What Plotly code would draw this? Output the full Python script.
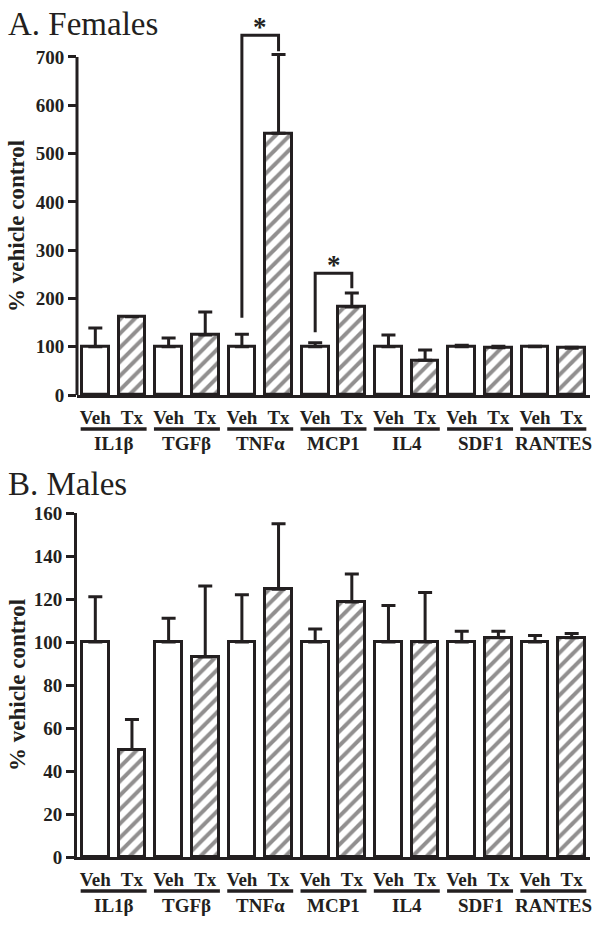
import plotly.graph_objects as go

# ---------------- data ----------------
groups = ["IL1β", "TGFβ", "TNFα", "MCP1", "IL4", "SDF1", "RANTES"]
conds = ["Veh", "Tx"]

fem_veh = [100, 100, 100, 100, 100, 100, 100]
fem_veh_err = [39, 18, 26, 8, 24, 3, 1]
fem_tx = [162, 124, 542, 182, 72, 98, 97]
fem_tx_err = [0, 48, 163, 29, 21, 3, 2]

male_veh = [100, 100, 100, 100, 100, 100, 100]
male_veh_err = [21, 11, 22, 6, 17, 5, 3]
male_tx = [50, 93, 124.5, 118.6, 100, 102, 102]
male_tx_err = [14, 33, 30.5, 13, 23, 3, 2]

# significance brackets (female panel): group index, left start, top, right end
brackets_grp = [2, 3]
brackets_left = [160, 130]
brackets_top = [745, 252]
brackets_right = [712, 221]

FONT = "Liberation Serif"
BLACK = "#231f20"

fig = go.Figure()

n = len(groups)
veh_x = [2 * i for i in range(n)]
tx_x = [2 * i + 1 for i in range(n)]
tickvals = list(range(2 * n))
ticktext = [conds[i % 2] for i in range(2 * n)]

panels = [
    ("x", "y", fem_veh, fem_veh_err, fem_tx, fem_tx_err),
    ("x2", "y2", male_veh, male_veh_err, male_tx, male_tx_err),
]

for xa, ya, v, ve, t, te in panels:
    fig.add_trace(go.Bar(
        x=veh_x, y=v, xaxis=xa, yaxis=ya, width=0.73,
        marker=dict(color="white", line=dict(color=BLACK, width=3)),
        error_y=dict(type="data", symmetric=False, array=ve,
                     arrayminus=[0] * n, color=BLACK, thickness=3, width=7),
        showlegend=False, hoverinfo="skip",
    ))
    fig.add_trace(go.Bar(
        x=tx_x, y=t, xaxis=xa, yaxis=ya, width=0.73,
        marker=dict(color="white", line=dict(color=BLACK, width=3),
                    pattern=dict(shape="/", size=10, solidity=0.4,
                                 fgcolor=BLACK, bgcolor="white", fillmode="overlay")),
        error_y=dict(type="data", symmetric=False, array=te,
                     arrayminus=[0] * n, color=BLACK, thickness=3, width=7),
        showlegend=False, hoverinfo="skip",
    ))

TICKFONT = dict(family=FONT, size=19, color=BLACK, weight="bold")

xaxis_common = dict(
    range=[-0.5, 13.5], tickvals=tickvals, ticktext=ticktext,
    showline=True, linewidth=3, linecolor=BLACK, ticks="", showgrid=False,
    zeroline=False, tickfont=TICKFONT, automargin=False, ticklabelstandoff=3,
    domain=[77 / 600, 590 / 600], fixedrange=True,
)
yaxis_common = dict(
    ticks="outside", ticklen=8, tickwidth=2.5, tickcolor=BLACK,
    showgrid=False, zeroline=False, automargin=False, tickfont=TICKFONT,
)

fig.update_layout(
    xaxis=dict(**xaxis_common, anchor="y"),
    xaxis2=dict(**xaxis_common, anchor="y2"),
    yaxis=dict(**yaxis_common, range=[0, 800], tickvals=list(range(0, 701, 100)),
               showline=False, anchor="x", domain=[1 - 395 / 938, 1 - 8.7 / 938]),
    yaxis2=dict(**yaxis_common, range=[0, 160], tickvals=list(range(0, 161, 20)),
                showline=True, linewidth=3, linecolor=BLACK, anchor="x2",
                domain=[1 - 857 / 938, 1 - 513 / 938]),
    width=600, height=938, margin=dict(l=0, r=0, t=0, b=0, autoexpand=False),
    plot_bgcolor="white", paper_bgcolor="white", barmode="overlay",
    bargap=0,
)

shapes = []
annotations = []

# y-axis line for top panel (stops at 700)
shapes.append(dict(type="line", xref="x domain", yref="y", x0=0, x1=0, y0=0, y1=700,
                   line=dict(color=BLACK, width=3)))

# group underlines and labels
for xa, ya in [("x", "y"), ("x2", "y2")]:
    for i, g in enumerate(groups):
        c = 2 * i + 0.5
        shapes.append(dict(type="line", xref=xa, yref=ya + " domain",
                           ysizemode="pixel", yanchor=0, x0=c - 0.9, x1=c + 0.9,
                           y0=-34, y1=-34, line=dict(color=BLACK, width=3.5)))
        annotations.append(dict(text=g, xref=xa, yref=ya + " domain", x=c, y=0,
                                yshift=-48, showarrow=False, yanchor="middle",
                                font=TICKFONT))

# significance brackets
for gi, yl, yt, yr in zip(brackets_grp, brackets_left, brackets_top, brackets_right):
    xl, xr = 2 * gi, 2 * gi + 1
    shapes.append(dict(type="path", xref="x", yref="y",
                       path=f"M {xl} {yl} L {xl} {yt} L {xr} {yt} L {xr} {yr}",
                       line=dict(color=BLACK, width=3)))
    annotations.append(dict(text="*", xref="x", yref="y", x=(xl + xr) / 2, y=yt,
                            yshift=-9, showarrow=False, yanchor="bottom",
                            font=dict(family=FONT, size=27, color=BLACK, weight="bold")))

# panel titles
annotations.append(dict(text="A. Females", xref="paper", yref="paper", x=6 / 600,
                        y=1 - 24 / 938, xanchor="left", yanchor="middle", showarrow=False,
                        font=dict(family=FONT, size=33, color=BLACK)))
annotations.append(dict(text="B. Males", xref="paper", yref="paper", x=6 / 600,
                        y=1 - 484 / 938, xanchor="left", yanchor="middle", showarrow=False,
                        font=dict(family=FONT, size=33, color=BLACK)))

# y-axis titles
annotations.append(dict(text="% vehicle control", xref="paper", yref="y", x=17 / 600,
                        y=350, textangle=-90, showarrow=False, xanchor="center",
                        yanchor="middle",
                        font=dict(family=FONT, size=23, color=BLACK, weight="bold")))
annotations.append(dict(text="% vehicle control", xref="paper", yref="y2", x=17 / 600,
                        y=80, textangle=-90, showarrow=False, xanchor="center",
                        yanchor="middle",
                        font=dict(family=FONT, size=23, color=BLACK, weight="bold")))

fig.update_layout(shapes=shapes, annotations=annotations)

fig.write_html("out.html", config={"displayModeBar": False},
               post_script="document.body.style.margin='0';document.body.style.overflow='hidden';")
